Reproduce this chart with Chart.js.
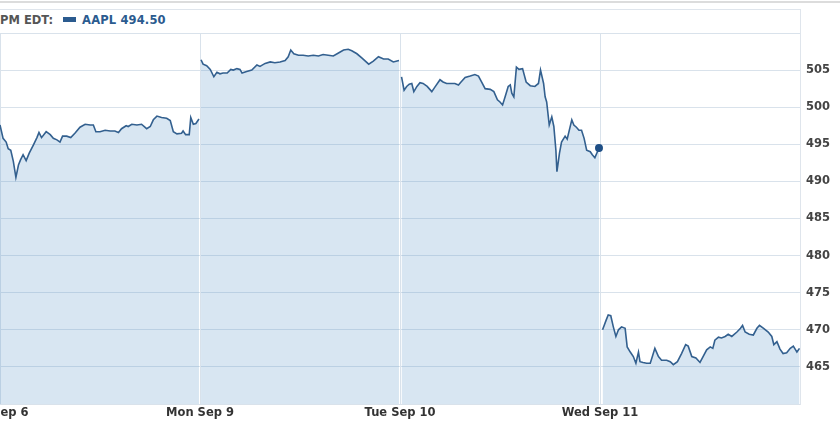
<!DOCTYPE html>
<html>
<head>
<meta charset="utf-8">
<script src="https://cdn.jsdelivr.net/npm/chart.js@4.4.0/dist/chart.umd.min.js"></script>
<style>
  html, body { margin:0; padding:0; background:#fff; }
  #stage { position:relative; width:840px; height:423px; overflow:hidden; background:#fff; }
  #topline { position:absolute; left:0; top:1px; width:840px; height:2px; background:#dcdcdc; }
  #box { position:absolute; left:-5px; top:9px; width:806px; height:396px; box-sizing:border-box;
         border-top:1px solid #dfe5ec; border-right:1px solid #dfe5ec; }
  #legend { position:absolute; left:0; top:13px; font:bold 11.5px "DejaVu Sans", Verdana, sans-serif; white-space:nowrap; line-height:14px; }
  #legend .pre { color:#555; }
  #legend .mark { display:inline-block; width:13px; height:5px; background:#2b5b8f; margin:0 6px 0 10px; vertical-align:2px; }
  #legend .sym { color:#2b5b8f; letter-spacing:0.15px; }
  #wrap { position:absolute; left:-100px; top:0; width:940px; height:423px; }
</style>
</head>
<body>
<div id="stage">
  <div id="topline"></div>
  <div id="box"></div>
  <div id="legend"><span class="pre">PM EDT:</span><span class="mark"></span><span class="sym">AAPL 494.50</span></div>
  <div id="wrap"><canvas id="c" width="940" height="423"></canvas></div>
</div>
<script>
// ---- data (minutes from session open, price) ----
const dayLabels = ['Fri Sep 6', 'Mon Sep 9', 'Tue Sep 10', 'Wed Sep 11'];
const sessionMinutes = 390;
const yTickLabels = [465, 470, 475, 480, 485, 490, 495, 500, 505];

const friTimes = [0,6,12,16,21,26,31,36,40,45,51,57,65,72,76,81,90,98,104,111,117,122,130,138,146,156,166,176,182,187,195,205,215,224,231,237,246,250,257,267,276,286,293,299,306,315,325,332,338,345,354,357,362,369,372,377,382,388];
const friPrices = [497.6,495.8,495.3,494.4,494.2,492.7,490.55,492.2,492.9,493.6,492.8,493.8,494.9,495.9,496.6,495.9,496.7,496.3,495.8,495.6,495.3,496.1,496.1,495.9,496.5,497.3,497.7,497.6,497.6,496.7,496.7,496.9,496.8,496.8,496.6,497.1,497.5,497.4,497.7,497.6,497.7,497.1,497.4,498.3,498.8,498.6,498.5,498.2,496.7,496.4,496.5,496.8,496.3,496.3,498.6,497.7,497.8,498.4];

const monTimes = [2,6,13,20,27,33,39,45,53,60,65,72,78,82,91,101,111,117,127,137,146,156,166,172,177,183,192,201,211,221,231,240,250,260,270,280,289,296,306,316,329,338,348,358,367,377,388];
const monPrices = [506.4,505.8,505.6,505.1,504.1,504.7,504.5,504.6,504.6,505.1,505.0,505.2,505.1,504.6,504.8,505.0,505.7,505.5,505.9,506.1,506.0,506.1,506.3,506.8,507.7,507.2,507.0,507.0,506.9,507.0,506.9,507.1,507.0,506.9,507.3,507.7,507.8,507.6,507.2,506.6,505.8,506.2,506.8,506.5,506.5,506.1,506.3];

const tueTimes = [3,8,13,18,23,27,33,39,45,53,62,68,78,84,91,101,107,114,119,127,137,146,153,159,166,176,183,190,195,200,205,211,215,218,222,227,232,239,246,254,263,270,274,280,283,286,291,296,300,304,306,311,315,322,326,335,339,344,349,354,359,364,371,375,380,385,388];
const tuePrices = [504.1,502.3,502.8,503.1,503.2,502.1,502.8,503.3,503.2,502.8,502.1,502.7,503.7,503.4,503.2,503.2,503.2,503.0,503.4,504.0,504.2,504.4,504.2,503.4,502.5,502.4,502.1,501.0,500.7,500.3,501.4,502.8,503.0,501.9,501.4,505.4,505.1,505.2,503.4,502.9,502.8,503.2,505.0,503.2,501.4,500.7,497.6,498.7,497.4,494.2,491.3,493.8,495.3,496.1,495.7,498.3,497.6,497.3,496.9,496.9,495.8,494.2,494.0,493.6,493.2,494.0,494.5];

const wedTimes = [5,12,16,21,26,31,36,42,49,53,59,65,70,75,78,84,91,98,103,107,114,120,130,137,143,151,159,167,172,179,187,195,201,208,215,220,224,231,237,244,250,257,267,274,278,283,291,299,306,311,319,328,335,339,345,351,357,364,371,377,384,389];
const wedPrices = [470.0,471.3,472.0,471.9,470.4,469.1,470.0,470.4,470.2,467.7,467.0,466.4,465.5,467.0,465.7,465.6,465.5,465.5,466.6,467.5,466.4,465.9,465.9,465.7,465.3,465.7,466.8,468.0,467.8,466.4,466.2,465.6,466.4,467.3,467.7,467.5,468.6,469.0,468.9,469.1,469.4,469.1,469.7,470.2,470.6,469.7,469.4,469.3,470.2,470.6,470.2,469.7,469.1,468.0,468.4,467.4,466.8,466.9,467.5,467.8,467.0,467.5];

const sessions = [
  [friTimes, friPrices],
  [monTimes, monPrices],
  [tueTimes, tuePrices],
  [wedTimes, wedPrices]
];
const markedDay = 2; // last point of this session carries the marker

// ---- chart ----
const FONT = { family: '"DejaVu Sans", Verdana, sans-serif', size: 11.5, weight: 'bold' };
const GRID = '#d9e2eb';
const LINE = '#33608f';

const datasets = sessions.map(([t, p], d) => ({
  data: t.map((m, i) => ({ x: d * sessionMinutes + m, y: p[i] })),
  borderColor: LINE,
  borderWidth: 1.6,
  backgroundColor: 'rgba(92,152,200,0.24)',
  fill: 'start',
  tension: 0,
  pointRadius: (ctx) => (d === markedDay && ctx.dataIndex === t.length - 1) ? 4 : 0,
  pointBackgroundColor: '#1e4f86',
  pointBorderWidth: 0,
  clip: false
}));

new Chart(document.getElementById('c'), {
  type: 'line',
  data: { datasets },
  options: {
    responsive: false,
    animation: false,
    devicePixelRatio: 1,
    layout: { autoPadding: false, padding: { top: 33, left: 0, right: 0, bottom: 0 } },
    plugins: { legend: { display: false }, tooltip: { enabled: false } },
    scales: {
      x: {
        type: 'linear',
        min: -sessionMinutes / 2,
        max: dayLabels.length * sessionMinutes,
        afterBuildTicks: (s) => {
          s.ticks = dayLabels.map((_, i) => ({ value: i * sessionMinutes }))
            .concat([{ value: dayLabels.length * sessionMinutes }]);
        },
        ticks: {
          autoSkip: false, maxRotation: 0, padding: 2,
          color: '#333', font: FONT,
          callback: (v) => { const i = Math.round(v / sessionMinutes); return dayLabels[i] || ''; }
        },
        grid: { color: GRID, drawTicks: false, lineWidth: 1 },
        border: { display: false },
        afterFit: (s) => { s.height = 19; }
      },
      y: {
        position: 'right',
        min: 460, max: 510,
        ticks: {
          stepSize: 5, padding: 6, color: '#444', font: FONT,
          callback: (v) => yTickLabels.includes(v) ? String(v) : ''
        },
        grid: { color: GRID, drawTicks: false, lineWidth: 1 },
        border: { display: true, color: '#dfe5ec' },
        afterFit: (s) => { s.width = 40; }
      }
    }
  }
});
</script>
</body>
</html>
